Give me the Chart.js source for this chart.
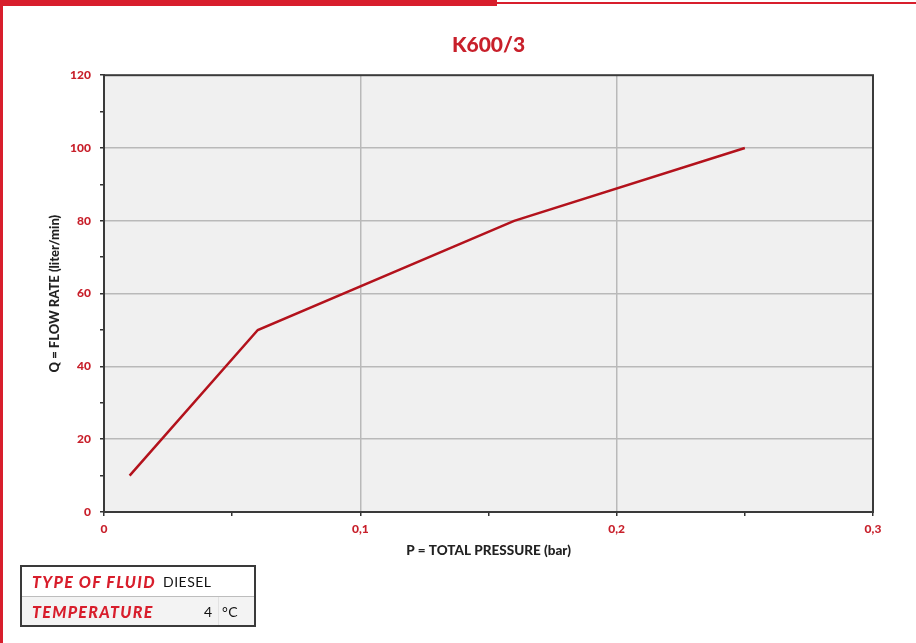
<!DOCTYPE html>
<html>
<head>
<meta charset="utf-8">
<script src="https://cdn.jsdelivr.net/npm/chart.js@4"></script>
<style>
	body { margin: 0; background: #fff; font-family: Lato, 'Noto Sans', sans-serif; }
	#wrap { position: relative; width: 916px; height: 643px; overflow: hidden; }
	#chart { position: absolute; left: 0; top: 0; }
	.bar-thick { position: absolute; left: 0; top: 0; width: 497px; height: 6px; background: #d81e2c; }
	.bar-thin { position: absolute; left: 497px; top: 2px; width: 419px; height: 2px; background: #d81e2c; }
	.bar-left { position: absolute; left: 0; top: 0; width: 3px; height: 643px; background: #d81e2c; }
	#fluid { position: absolute; left: 20px; top: 565px; width: 232px; height: 58px; border: 2px solid #3a3a3a; }
	#fluid .row { position: relative; height: 29px; line-height: 29px; font-size: 14px; }
	#fluid .row + .row { border-top: 1px solid #bdbdbd; height: 28px; background: #f3f3f3; }
	#fluid .lbl { position: absolute; left: 10px; color: #d81e2c; font-weight: 900; font-style: italic; font-size: 16px; letter-spacing: 1.3px; }
	#fluid .val { position: absolute; color: #111; letter-spacing: 0.5px; }
	#fluid .sep { position: absolute; left: 196px; top: 0; width: 1px; height: 100%; background: #e2e2e2; }
</style>
</head>
<body>
<div id="wrap">
	<canvas id="chart" width="916" height="643"></canvas>
	<div class="bar-thick"></div>
	<div class="bar-thin"></div>
	<div class="bar-left"></div>
	<div id="fluid">
		<div class="row"><span class="lbl">TYPE OF FLUID</span><span class="val" style="left:141px">DIESEL</span></div>
		<div class="row"><span class="sep"></span><span class="lbl">TEMPERATURE</span><span class="val" style="left:182px">4</span><span class="val" style="left:200px">°C</span></div>
	</div>
</div>
<script>
// curve K600/3: total pressure (bar) vs flow rate (liter/min)
const pressure = [0.01, 0.06, 0.16, 0.25]
const flowRate = [10, 50, 80, 100]

const xTicks = [0, 0.1, 0.2, 0.3]
const yTicks = [0, 20, 40, 60, 80, 100, 120]

const red = '#c8202b'
const tickFont = { family: 'Lato', size: 12, weight: '900' }

const isMajor = (v, step) => Math.abs(v / step - Math.round(v / step)) < 1e-6

// grey plot background and box frame
const plotFrame = {
	id: 'plotFrame',
	beforeDraw(chart) {
		const { ctx, chartArea: a } = chart
		ctx.save()
		ctx.fillStyle = '#f0f0f0'
		ctx.fillRect(a.left, a.top, a.right - a.left, a.bottom - a.top)
		ctx.restore()
	},
	afterDraw(chart) {
		const { ctx, chartArea: a } = chart
		ctx.save()
		ctx.strokeStyle = '#3a3a3a'
		ctx.lineWidth = 2
		ctx.strokeRect(a.left, a.top, a.right - a.left, a.bottom - a.top)
		ctx.restore()
	},
}

new Chart(document.getElementById('chart'), {
	type: 'scatter',
	data: {
		datasets: [
			{
				data: pressure.map((p, i) => ({ x: p, y: flowRate[i] })),
				showLine: true,
				borderColor: '#b3121c',
				borderWidth: 2.5,
				pointRadius: 0,
				tension: 0,
			},
		],
	},
	options: {
		responsive: false,
		animation: false,
		layout: { padding: { left: 0, right: 43, top: 0, bottom: 0 } },
		plugins: {
			legend: { display: false },
			tooltip: { enabled: false },
			title: {
				display: true,
				text: 'K600/3',
				color: red,
				fullSize: false,
				font: { family: 'Lato', size: 21, weight: '900' },
				padding: { top: 33, bottom: 17 },
			},
		},
		scales: {
			x: {
				type: 'linear',
				min: xTicks[0],
				max: xTicks[xTicks.length - 1],
				afterFit: (s) => { s.height = 131 },
				ticks: {
					stepSize: 0.05,
					color: red,
					font: tickFont,
					padding: 6,
					maxRotation: 0,
					autoSkip: false,
					callback: (v) => {
						if (!isMajor(v, 0.1)) return ''
						return v === 0 ? '0' : v.toFixed(1).replace('.', ',')
					},
				},
				grid: {
					color: (c) => {
						const v = c.tick ? c.tick.value : 0
						return isMajor(v, 0.1) && v > 0 && v < 0.3 ? '#b9b9b9' : 'rgba(0,0,0,0)'
					},
					lineWidth: 1.5,
					tickColor: '#333',
					tickLength: 4,
				},
				border: { color: '#333', width: 2 },
				title: {
					display: true,
					text: 'P = TOTAL PRESSURE (bar)',
					color: '#222',
					font: { family: 'Lato', size: 13.5, weight: '900' },
					padding: { top: 0, bottom: 84 },
				},
			},
			y: {
				type: 'linear',
				min: yTicks[0],
				max: yTicks[yTicks.length - 1],
				afterFit: (s) => { s.width = 104 },
				ticks: {
					stepSize: 10,
					color: red,
					font: tickFont,
					padding: 9,
					autoSkip: false,
					callback: (v) => (isMajor(v, 20) ? String(v) : ''),
				},
				grid: {
					color: (c) => {
						const v = c.tick ? c.tick.value : 0
						return isMajor(v, 20) && v > 0 && v < 120 ? '#b9b9b9' : 'rgba(0,0,0,0)'
					},
					lineWidth: 1.5,
					tickColor: '#333',
					tickLength: 4,
				},
				border: { color: '#333', width: 2 },
				title: {
					display: true,
					text: 'Q = FLOW RATE (liter/min)',
					color: '#222',
					font: { family: 'Lato', size: 13, weight: '900' },
					padding: { top: 47, bottom: 0 },
				},
			},
		},
	},
	plugins: [plotFrame],
})
</script>
</body>
</html>
